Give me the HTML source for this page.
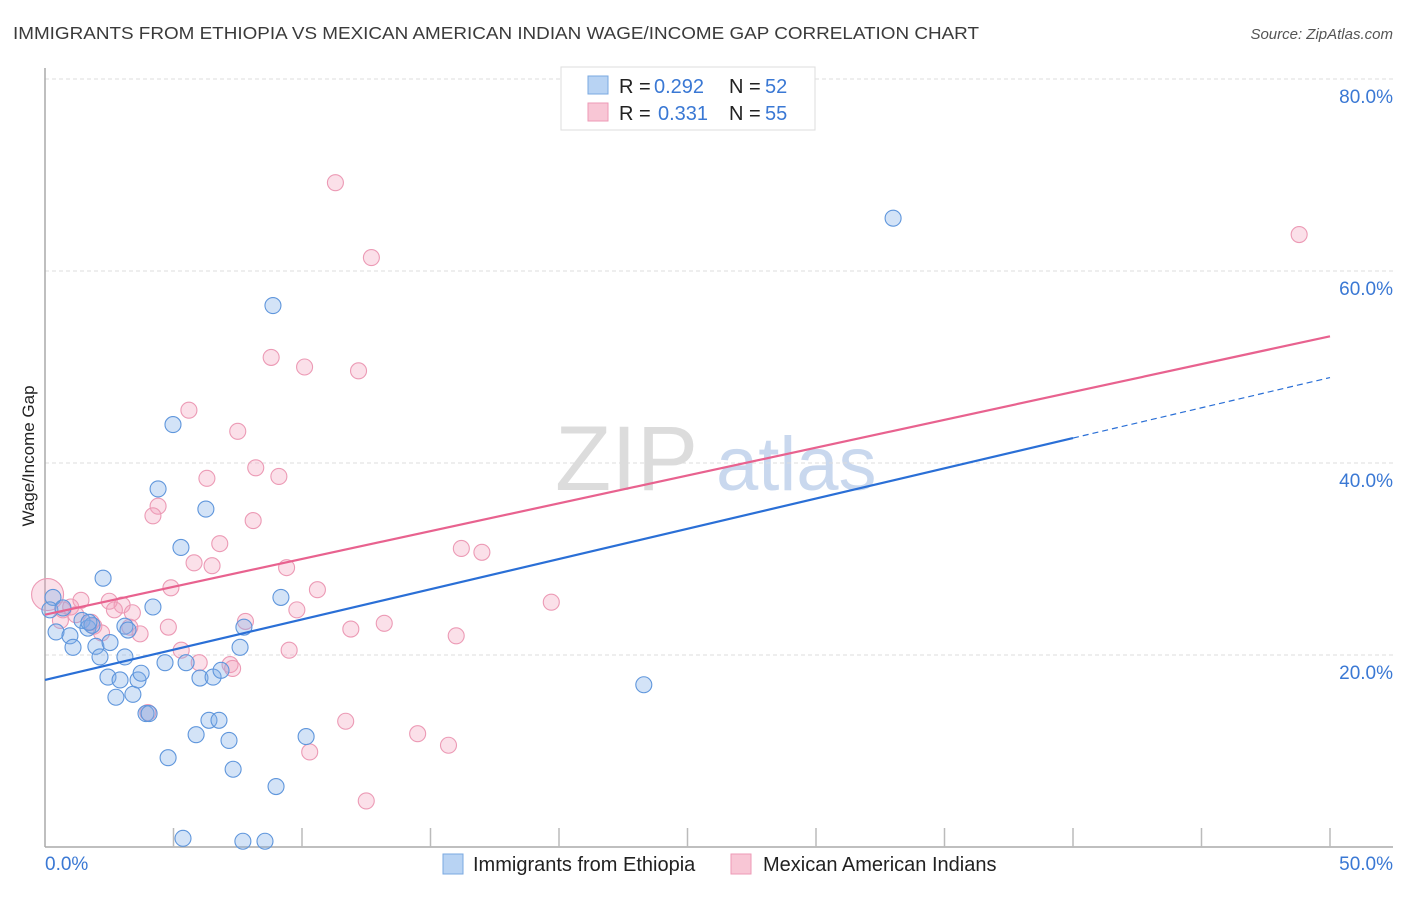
<!DOCTYPE html>
<html><head><meta charset="utf-8"><style>
body{margin:0;background:#fff;font-family:"Liberation Sans",sans-serif;}
svg text{font-family:"Liberation Sans",sans-serif;}
</style></head><body>
<svg id="chart" width="1406" height="892" xmlns="http://www.w3.org/2000/svg">
<text x="13" y="39" font-size="17.5" fill="#3a3a3a" textLength="966" lengthAdjust="spacingAndGlyphs">IMMIGRANTS FROM ETHIOPIA VS MEXICAN AMERICAN INDIAN WAGE/INCOME GAP CORRELATION CHART</text>
<text x="1393" y="39" font-size="15" fill="#555" font-style="italic" text-anchor="end">Source: ZipAtlas.com</text>
<g><text x="555" y="490" font-size="92" fill="#dcdcdc" font-family="Liberation Serif,serif">ZIP</text><text x="716" y="490" font-size="76" fill="#c9d8ee">atlas</text></g>
<g id="grid"></g>
<line x1="45" y1="68" x2="45" y2="847" stroke="#aaa" stroke-width="1.5"/>
<line x1="45" y1="847" x2="1393" y2="847" stroke="#aaa" stroke-width="1.5"/>
<g id="ticks"></g>
<text transform="translate(34,456) rotate(-90)" font-size="17" fill="#222" text-anchor="middle">Wage/Income Gap</text>
<text x="45" y="870" font-size="19" fill="#3a78d4">0.0%</text>
<text x="1393" y="870" font-size="19" fill="#3a78d4" text-anchor="end">50.0%</text>
<g id="points"></g>
<g id="lines"></g>
<g>
<rect x="561" y="67" width="254" height="63" fill="#fff" stroke="#ddd"/>
<rect x="588" y="76" width="20" height="18" fill="#b8d3f3" stroke="#7aa8e0"/>
<rect x="588" y="103" width="20" height="18" fill="#f8c6d5" stroke="#ee9ab6"/>
<text x="619" y="93" font-size="20" fill="#222">R =</text>
<text x="654" y="93" font-size="20" fill="#3a78d4">0.292</text>
<text x="729" y="93" font-size="20" fill="#222">N =</text>
<text x="765" y="93" font-size="20" fill="#3a78d4">52</text>
<text x="619" y="120" font-size="20" fill="#222">R =</text>
<text x="658" y="120" font-size="20" fill="#3a78d4">0.331</text>
<text x="729" y="120" font-size="20" fill="#222">N =</text>
<text x="765" y="120" font-size="20" fill="#3a78d4">55</text>
</g>
<g>
<rect x="443" y="854" width="20" height="20" fill="#b8d3f3" stroke="#7aa8e0"/>
<text x="473" y="871" font-size="20" fill="#222">Immigrants from Ethiopia</text>
<rect x="731" y="854" width="20" height="20" fill="#f8c6d5" stroke="#ee9ab6"/>
<text x="763" y="871" font-size="20" fill="#222">Mexican American Indians</text>
</g>
</svg>
<script>
const yTicks=[20,40,60,80];
const yTickLabels=["20.0%","40.0%","60.0%","80.0%"];
const xTicks=[5,10,15,20,25,30,35,40,45,50];
const blueX=[33.0,8.87,4.98,4.40,6.26,5.29,2.26,9.18,4.20,0.31,0.19,0.70,0.43,0.97,1.09,1.44,1.67,1.83,1.98,2.14,2.53,3.11,3.23,2.45,2.92,2.76,3.42,3.62,3.74,3.11,4.67,5.49,6.03,6.54,6.85,7.59,7.74,3.93,4.05,6.38,6.77,5.88,7.16,10.16,4.79,7.32,8.99,5.37,7.70,8.56,23.3,1.71];
const blueY=[65.5,56.4,44.0,37.3,35.2,31.2,28.0,26.0,25.0,26.0,24.7,24.9,22.4,22.0,20.8,23.6,22.8,23.1,20.9,19.8,21.3,23.0,22.6,17.7,17.4,15.6,15.9,17.4,18.1,19.8,19.2,19.2,17.6,17.7,18.4,20.8,22.9,13.9,13.9,13.2,13.2,11.7,11.1,11.5,9.3,8.1,6.3,0.9,0.6,0.6,16.9,23.4];
const pinkX=[11.3,48.8,12.7,8.8,10.1,12.2,5.6,7.5,8.2,9.1,6.3,4.4,4.2,8.1,6.8,16.2,17.0,5.8,6.5,9.4,10.6,4.9,0.1,1.4,2.5,3.0,19.7,9.8,7.8,3.4,3.3,3.7,4.8,11.9,13.2,16.0,1.9,2.2,5.3,9.5,6.0,7.2,7.3,4.0,11.7,14.5,15.7,10.3,12.5,0.7,1.0,2.7,1.8,0.6,1.2];
const pinkY=[69.2,63.8,61.4,51.0,50.0,49.6,45.5,43.3,39.5,38.6,38.4,35.5,34.5,34.0,31.6,31.1,30.7,29.6,29.3,29.1,26.8,27.0,26.3,25.7,25.6,25.2,25.5,24.7,23.5,24.4,22.9,22.2,22.9,22.7,23.3,22.0,23.0,22.3,20.5,20.5,19.2,19.0,18.6,14.0,13.1,11.8,10.6,9.9,4.8,24.7,25.0,24.7,23.4,23.6,24.2];
const blueLine=[0,17.4,40,42.6,50,48.9];
const pinkLine=[0,24.2,50,53.2];
const NS="http://www.w3.org/2000/svg";
const X=v=>45+v*25.7, Y=v=>847-v*9.6;
function mk(t,a,p){const e=document.createElementNS(NS,t);for(const k in a)e.setAttribute(k,a[k]);document.getElementById(p).appendChild(e);return e;}
yTicks.forEach((t,i)=>{
 const g=mk('line',{x1:45,x2:1393,y1:Y(t),y2:Y(t),stroke:'#ddd','stroke-dasharray':'4,3'},'grid');
 
 
 const l=mk('text',{x:1393,y:Y(t)+24,'font-size':19,fill:'#3a78d4','text-anchor':'end'},'grid');
 l.textContent=yTickLabels[i];
 
 
});
xTicks.forEach(t=>{
 const k=mk('line',{x1:X(t),x2:X(t),y1:828,y2:847,stroke:'#bbb','stroke-width':1.5},'ticks');
 
 
});
function pts(xs,ys,fill,stroke,name){xs.forEach((x,i)=>{
 const big=(name==='pink-point'&&x<0.3);
 const c=mk('circle',{cx:X(x),cy:Y(ys[i]),r:big?16:8,fill:fill,stroke:stroke,'stroke-width':1.1},'points');
 
 
});}
pts(pinkX,pinkY,'rgba(244,160,188,0.32)','#ec9ab5','pink-point');
pts(blueX,blueY,'rgba(130,175,232,0.35)','#5f96dc','blue-point');
const bl=mk('line',{x1:X(blueLine[0]),y1:Y(blueLine[1]),x2:X(blueLine[2]),y2:Y(blueLine[3]),stroke:'#2a6fd6','stroke-width':2.2},'lines');


const bd=mk('line',{x1:X(blueLine[2]),y1:Y(blueLine[3]),x2:X(blueLine[4]),y2:Y(blueLine[5]),stroke:'#2a6fd6','stroke-width':1.2,'stroke-dasharray':'6,4'},'lines');


const pl=mk('line',{x1:X(pinkLine[0]),y1:Y(pinkLine[1]),x2:X(pinkLine[2]),y2:Y(pinkLine[3]),stroke:'#e8628f','stroke-width':2.2},'lines');


</script>
</body></html>
